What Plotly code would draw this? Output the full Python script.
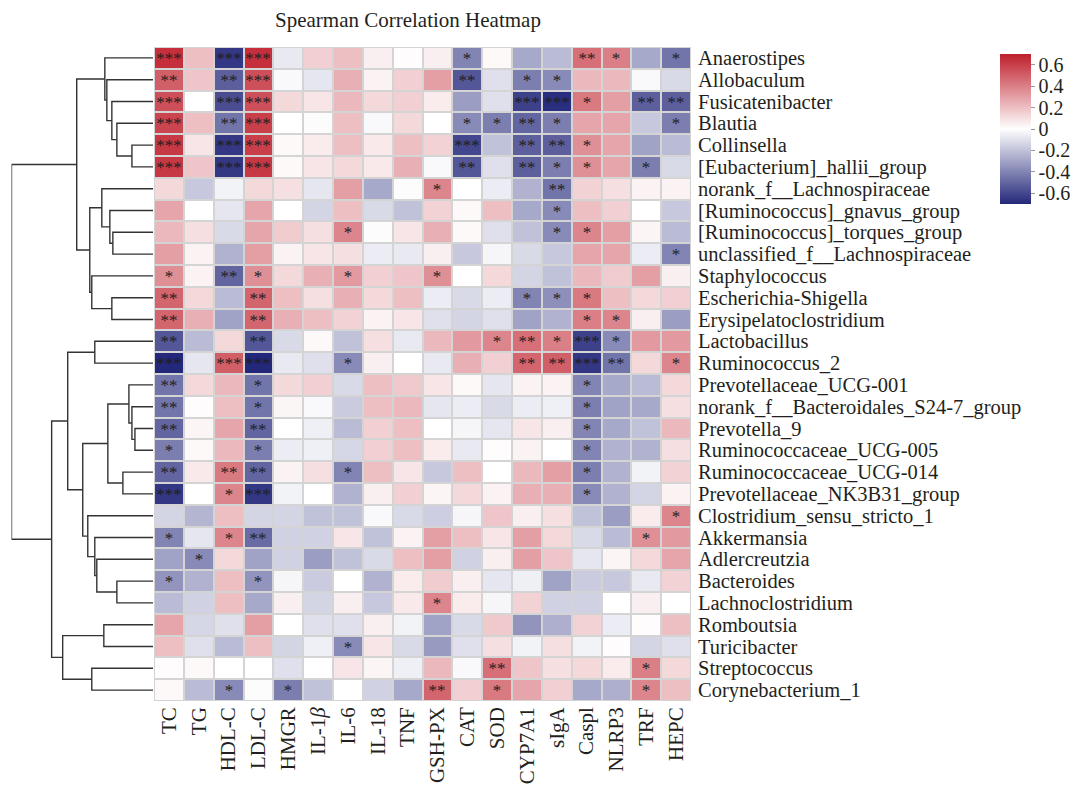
import plotly.graph_objects as go

# Genera (rows, in dendrogram order) and host indices (columns)
genera = [
    "Anaerostipes", "Allobaculum", "Fusicatenibacter", "Blautia", "Collinsella",
    "[Eubacterium]_hallii_group", "norank_f__Lachnospiraceae",
    "[Ruminococcus]_gnavus_group", "[Ruminococcus]_torques_group",
    "unclassified_f__Lachnospiraceae", "Staphylococcus", "Escherichia-Shigella",
    "Erysipelatoclostridium", "Lactobacillus", "Ruminococcus_2",
    "Prevotellaceae_UCG-001", "norank_f__Bacteroidales_S24-7_group", "Prevotella_9",
    "Ruminococcaceae_UCG-005", "Ruminococcaceae_UCG-014", "Prevotellaceae_NK3B31_group",
    "Clostridium_sensu_stricto_1", "Akkermansia", "Adlercreutzia", "Bacteroides",
    "Lachnoclostridium", "Romboutsia", "Turicibacter", "Streptococcus", "Corynebacterium_1",
]

indices = ["TC", "TG", "HDL-C", "LDL-C", "HMGR", "IL-1<i>β</i>", "IL-6", "IL-18", "TNF",
           "GSH-PX", "CAT", "SOD", "CYP7A1", "sIgA", "Caspl", "NLRP3", "TRF", "HEPC"]

# Spearman rho, one row per genus, columns in the order of `indices`
rho = [
    [0.65, 0.20, -0.65, 0.65, -0.07, 0.15, 0.20, 0.05, 0.01, 0.05, -0.40, 0.02, -0.28, -0.22, 0.45, 0.40, -0.28, -0.45],
    [0.50, 0.18, -0.52, 0.55, -0.02, -0.08, 0.25, 0.04, 0.15, 0.30, -0.55, -0.10, -0.42, -0.38, 0.22, 0.22, -0.02, -0.12],
    [0.55, 0.00, -0.58, 0.55, 0.12, 0.08, 0.22, 0.12, 0.15, 0.06, -0.32, -0.10, -0.62, -0.68, 0.42, 0.30, -0.52, -0.52],
    [0.58, 0.20, -0.45, 0.60, 0.00, -0.01, 0.20, -0.02, 0.12, 0.00, -0.38, -0.42, -0.50, -0.42, 0.28, 0.28, -0.18, -0.42],
    [0.62, 0.08, -0.65, 0.60, 0.02, 0.06, 0.20, 0.07, 0.20, 0.14, -0.60, -0.20, -0.52, -0.52, 0.35, 0.28, -0.30, -0.22],
    [0.62, 0.18, -0.65, 0.62, 0.02, 0.08, 0.12, 0.07, 0.25, -0.02, -0.55, -0.10, -0.52, -0.42, 0.35, 0.28, -0.42, -0.12],
    [0.12, -0.18, -0.04, 0.12, 0.10, -0.08, 0.30, -0.28, -0.01, 0.38, 0.00, -0.06, -0.25, -0.45, 0.14, 0.10, 0.04, 0.04],
    [0.28, 0.00, -0.08, 0.28, 0.00, -0.14, 0.20, -0.12, -0.20, 0.14, 0.02, 0.20, -0.28, -0.38, 0.20, 0.15, 0.00, -0.18],
    [0.22, 0.10, -0.12, 0.28, 0.16, 0.10, 0.38, -0.01, 0.08, 0.25, 0.02, -0.10, -0.20, -0.38, 0.38, 0.30, 0.03, -0.22],
    [0.30, 0.04, -0.25, 0.30, 0.04, 0.08, 0.10, -0.06, -0.07, 0.05, -0.18, -0.03, -0.12, -0.18, 0.28, 0.28, -0.06, -0.40],
    [0.35, 0.04, -0.50, 0.35, 0.12, 0.25, 0.32, 0.15, 0.18, 0.35, 0.00, 0.12, -0.14, -0.20, 0.22, 0.16, 0.30, 0.05],
    [0.48, 0.12, -0.22, 0.48, 0.20, 0.10, 0.25, 0.12, 0.20, -0.06, -0.12, -0.06, -0.40, -0.36, 0.42, 0.20, 0.12, 0.15],
    [0.48, 0.25, -0.30, 0.48, 0.25, 0.20, 0.14, 0.04, 0.08, -0.10, -0.14, -0.10, -0.30, -0.25, 0.40, 0.38, 0.05, -0.32],
    [-0.55, -0.22, 0.12, -0.55, -0.12, 0.02, -0.20, 0.10, -0.07, 0.22, 0.32, 0.38, 0.45, 0.40, -0.62, -0.38, 0.32, 0.32],
    [-0.70, -0.08, 0.50, -0.70, -0.07, -0.10, -0.38, 0.05, 0.00, -0.07, 0.25, 0.15, 0.48, 0.50, -0.65, -0.45, 0.12, 0.38],
    [-0.45, 0.12, 0.22, -0.45, 0.12, 0.15, -0.12, 0.20, 0.17, 0.08, 0.02, -0.08, 0.04, 0.04, -0.40, -0.28, -0.22, 0.12],
    [-0.45, 0.01, 0.20, -0.45, 0.03, -0.02, -0.17, 0.20, 0.22, -0.08, -0.06, -0.12, -0.06, -0.05, -0.42, -0.30, -0.28, 0.10],
    [-0.50, 0.03, 0.28, -0.50, 0.00, -0.05, -0.22, 0.15, 0.20, 0.00, -0.03, -0.08, 0.08, 0.05, -0.40, -0.28, -0.20, 0.22],
    [-0.42, 0.02, 0.22, -0.42, -0.06, -0.05, -0.13, 0.15, 0.20, 0.06, -0.07, 0.01, 0.04, 0.00, -0.40, -0.25, -0.25, 0.10],
    [-0.50, 0.07, 0.42, -0.50, 0.04, 0.10, -0.40, 0.20, 0.08, -0.18, 0.20, 0.00, 0.22, 0.30, -0.42, -0.25, -0.04, 0.14],
    [-0.65, 0.00, 0.38, -0.65, -0.04, 0.00, -0.25, 0.05, 0.15, 0.03, 0.12, 0.04, 0.25, 0.25, -0.38, -0.25, -0.14, 0.04],
    [-0.14, -0.24, 0.20, -0.14, -0.14, -0.20, -0.20, -0.02, -0.12, -0.16, -0.03, 0.18, 0.05, 0.10, -0.20, -0.32, 0.06, 0.38],
    [-0.40, -0.08, 0.38, -0.48, -0.15, -0.15, 0.08, -0.20, 0.04, 0.30, 0.20, 0.08, 0.30, 0.12, -0.12, -0.22, 0.35, 0.32],
    [-0.30, -0.38, 0.12, -0.30, -0.15, -0.32, -0.20, -0.12, 0.20, 0.30, -0.15, 0.05, 0.30, 0.18, -0.08, 0.03, 0.12, 0.28],
    [-0.35, -0.25, 0.20, -0.35, -0.03, -0.17, 0.00, -0.25, 0.06, 0.16, 0.05, -0.08, -0.05, -0.30, -0.17, -0.18, -0.07, 0.14],
    [-0.22, -0.15, 0.20, -0.28, 0.05, -0.14, 0.05, -0.18, 0.07, 0.38, 0.06, -0.03, 0.14, -0.15, -0.15, 0.00, 0.05, 0.00],
    [0.28, -0.13, -0.10, 0.30, 0.00, -0.10, -0.10, 0.05, -0.04, -0.30, -0.12, 0.17, -0.35, -0.26, 0.14, -0.06, 0.01, 0.20],
    [0.20, -0.10, -0.22, 0.20, -0.14, -0.05, -0.38, 0.08, -0.12, -0.33, -0.10, 0.10, -0.04, 0.10, -0.04, 0.01, -0.14, -0.10],
    [0.01, 0.02, 0.00, 0.00, -0.10, 0.00, 0.08, 0.03, -0.05, 0.22, -0.02, 0.45, 0.18, 0.10, 0.12, 0.06, 0.40, 0.12],
    [0.02, -0.22, -0.38, -0.01, -0.42, -0.20, 0.00, -0.15, -0.28, 0.48, 0.15, 0.42, 0.28, 0.15, -0.28, -0.26, 0.38, 0.20],
]

# Significance level per cell: 1 = p<0.05, 2 = p<0.01, 3 = p<0.001
sig = [
    [3, 0, 3, 3, 0, 0, 0, 0, 0, 0, 1, 0, 0, 0, 2, 1, 0, 1],
    [2, 0, 2, 3, 0, 0, 0, 0, 0, 0, 2, 0, 1, 1, 0, 0, 0, 0],
    [3, 0, 3, 3, 0, 0, 0, 0, 0, 0, 0, 0, 3, 3, 1, 0, 2, 2],
    [3, 0, 2, 3, 0, 0, 0, 0, 0, 0, 1, 1, 2, 1, 0, 0, 0, 1],
    [3, 0, 3, 3, 0, 0, 0, 0, 0, 0, 3, 0, 2, 2, 1, 0, 0, 0],
    [3, 0, 3, 3, 0, 0, 0, 0, 0, 0, 2, 0, 2, 1, 1, 0, 1, 0],
    [0, 0, 0, 0, 0, 0, 0, 0, 0, 1, 0, 0, 0, 2, 0, 0, 0, 0],
    [0, 0, 0, 0, 0, 0, 0, 0, 0, 0, 0, 0, 0, 1, 0, 0, 0, 0],
    [0, 0, 0, 0, 0, 0, 1, 0, 0, 0, 0, 0, 0, 1, 1, 0, 0, 0],
    [0, 0, 0, 0, 0, 0, 0, 0, 0, 0, 0, 0, 0, 0, 0, 0, 0, 1],
    [1, 0, 2, 1, 0, 0, 1, 0, 0, 1, 0, 0, 0, 0, 0, 0, 0, 0],
    [2, 0, 0, 2, 0, 0, 0, 0, 0, 0, 0, 0, 1, 1, 1, 0, 0, 0],
    [2, 0, 0, 2, 0, 0, 0, 0, 0, 0, 0, 0, 0, 0, 1, 1, 0, 0],
    [2, 0, 0, 2, 0, 0, 0, 0, 0, 0, 0, 1, 2, 1, 3, 1, 0, 0],
    [3, 0, 3, 3, 0, 0, 1, 0, 0, 0, 0, 0, 2, 2, 3, 2, 0, 1],
    [2, 0, 0, 1, 0, 0, 0, 0, 0, 0, 0, 0, 0, 0, 1, 0, 0, 0],
    [2, 0, 0, 1, 0, 0, 0, 0, 0, 0, 0, 0, 0, 0, 1, 0, 0, 0],
    [2, 0, 0, 2, 0, 0, 0, 0, 0, 0, 0, 0, 0, 0, 1, 0, 0, 0],
    [1, 0, 0, 1, 0, 0, 0, 0, 0, 0, 0, 0, 0, 0, 1, 0, 0, 0],
    [2, 0, 2, 2, 0, 0, 1, 0, 0, 0, 0, 0, 0, 0, 1, 0, 0, 0],
    [3, 0, 1, 3, 0, 0, 0, 0, 0, 0, 0, 0, 0, 0, 1, 0, 0, 0],
    [0, 0, 0, 0, 0, 0, 0, 0, 0, 0, 0, 0, 0, 0, 0, 0, 0, 1],
    [1, 0, 1, 2, 0, 0, 0, 0, 0, 0, 0, 0, 0, 0, 0, 0, 1, 0],
    [0, 1, 0, 0, 0, 0, 0, 0, 0, 0, 0, 0, 0, 0, 0, 0, 0, 0],
    [1, 0, 0, 1, 0, 0, 0, 0, 0, 0, 0, 0, 0, 0, 0, 0, 0, 0],
    [0, 0, 0, 0, 0, 0, 0, 0, 0, 1, 0, 0, 0, 0, 0, 0, 0, 0],
    [0, 0, 0, 0, 0, 0, 0, 0, 0, 0, 0, 0, 0, 0, 0, 0, 0, 0],
    [0, 0, 0, 0, 0, 0, 1, 0, 0, 0, 0, 0, 0, 0, 0, 0, 0, 0],
    [0, 0, 0, 0, 0, 0, 0, 0, 0, 0, 0, 2, 0, 0, 0, 0, 1, 0],
    [0, 0, 1, 0, 1, 0, 0, 0, 0, 2, 0, 1, 0, 0, 0, 0, 1, 0],
]

# Row clustering: [merge height, left child, right child]; leaves are row indices
row_tree = [1.41,
            [0.76,
             [0.48, 0, [0.46, 1, [0.41, 2, [0.36, 3, [0.21, 4, 5]]]]],
             [0.63,
              [0.51, 6, [0.43, 7, [0.40, 8, 9]]],
              [0.61, 10, [0.41, 11, 12]]]],
            [1.01,
             [0.85,
              [0.58, 13, 14],
              [0.70,
               [0.45, [0.24, 15, [0.21, 16, [0.18, 17, 18]]], [0.30, 19, 20]],
               [0.65, 21, [0.58, 22, [0.56, 23, [0.36, 24, 25]]]]]],
             [0.90, [0.49, 26, 27], [0.61, 28, 29]]]]

colorbar_ticks = [-0.6, -0.4, -0.2, 0, 0.2, 0.4, 0.6]

# ---- figure geometry (pixels) ----
W, H = 1076, 787
hm_left, hm_right, hm_top, hm_bottom = 154, 691, 47, 701
dg_left, dg_right = 11.5, 153

SERIF = "Liberation Serif, Times New Roman, serif"
INK = "#231f20"
GRID = "#d4d4d4"


def px_x(p):
    return p / W


def px_y(p):
    return 1 - p / H


# dendrogram segments
seg_x, seg_y = [], []


def walk(node):
    if isinstance(node, int):
        return float(node), 0.0
    h, left, right = node
    ly, lh = walk(left)
    ry, rh = walk(right)
    seg_x.extend([lh, h, h, rh, None])
    seg_y.extend([ly, ly, ry, ry, None])
    return (ly + ry) / 2, h


walk(row_tree)

star_text = [["*" * s for s in row] for row in sig]

fig = go.Figure()

fig.add_trace(go.Heatmap(
    z=rho,
    x=list(range(len(indices))),
    y=list(range(len(genera))),
    text=star_text,
    texttemplate="%{text}",
    textfont=dict(family=SERIF, size=17, color="#1e1e1e"),
    zmin=-0.7, zmax=0.7,
    colorscale=[[0.0, "#24287a"], [0.5, "#ffffff"], [1.0, "#bf1f2c"]],
    xgap=2, ygap=2,
    hoverinfo="skip",
    colorbar=dict(
        x=px_x(1000), xanchor="left", xpad=0,
        y=px_y(129), yanchor="middle", ypad=0,
        len=150, lenmode="pixels",
        thickness=31, thicknessmode="pixels",
        outlinewidth=0,
        tickvals=colorbar_ticks,
        ticktext=["%g" % v for v in colorbar_ticks],
        ticks="outside", ticklen=4, tickcolor="#999999",
        tickfont=dict(family=SERIF, size=20, color=INK),
    ),
))

fig.add_trace(go.Scatter(
    x=seg_x, y=seg_y,
    xaxis="x2", yaxis="y",
    mode="lines",
    line=dict(color="#333333", width=1.4),
    hoverinfo="skip",
    cliponaxis=False,
    showlegend=False,
))

fig.update_layout(
    width=W, height=H,
    margin=dict(l=0, r=0, t=0, b=0),
    paper_bgcolor="white",
    plot_bgcolor="white",
    showlegend=False,
    xaxis=dict(
        domain=[px_x(hm_left), px_x(hm_right)],
        range=[-0.5, len(indices) - 0.5],
        tickvals=list(range(len(indices))),
        ticktext=indices,
        tickangle=-90,
        ticks="", showgrid=False, zeroline=False, showline=False,
        ticklabelstandoff=1,
        tickfont=dict(family=SERIF, size=21, color=INK),
        anchor="y",
    ),
    yaxis=dict(
        domain=[px_y(hm_bottom), px_y(hm_top)],
        range=[len(genera) - 0.5, -0.5],
        tickvals=list(range(len(genera))),
        ticktext=genera,
        side="right",
        ticks="", showgrid=False, zeroline=False, showline=False,
        ticklabelstandoff=6,
        tickfont=dict(family=SERIF, size=20.5, color=INK),
        anchor="x",
    ),
    xaxis2=dict(
        domain=[px_x(dg_left), px_x(dg_right)],
        range=[row_tree[0], 0],
        visible=False,
        anchor="y",
    ),
    shapes=[
        # grey cell borders showing through the heatmap gaps
        dict(type="rect", xref="x", yref="y", layer="below",
             x0=-0.5, x1=len(indices) - 0.5, y0=-0.5, y1=len(genera) - 0.5,
             fillcolor=GRID, line=dict(width=0)),
        dict(type="rect", xref="x", yref="y",
             x0=-0.5, x1=len(indices) - 0.5, y0=-0.5, y1=len(genera) - 0.5,
             line=dict(color=GRID, width=2)),
    ],
    annotations=[dict(
        text="Spearman Correlation Heatmap",
        xref="paper", yref="paper",
        x=px_x(408), y=px_y(20),
        xanchor="center", yanchor="middle",
        showarrow=False,
        font=dict(family=SERIF, size=21, color=INK),
    )],
)

fig.write_html("out.html")
